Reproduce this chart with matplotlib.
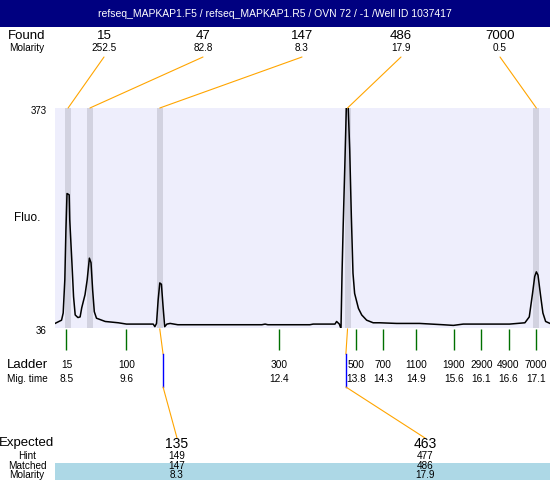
import matplotlib
matplotlib.use("Agg")
import matplotlib.pyplot as plt
from matplotlib import transforms
from matplotlib.patches import Rectangle

plt.rcParams["font.family"] = ["Liberation Sans", "DejaVu Sans"]

TITLE = "refseq_MAPKAP1.F5 / refseq_MAPKAP1.R5 / OVN 72 / -1 /Well ID 1037417"

# electropherogram trace: migration time vs fluorescence
trace_time = [8.29, 8.41, 8.44, 8.47, 8.49, 8.51, 8.55, 8.56, 8.60, 8.63,
              8.66, 8.71, 8.75, 8.78, 8.84, 8.88, 8.92, 8.95, 8.98, 9.01,
              9.05, 9.21, 9.45, 9.60, 10.09, 10.12, 10.15, 10.18, 10.21, 10.24,
              10.27, 10.30, 10.34, 10.40, 10.54, 12.08, 12.14, 12.19, 12.96, 13.02,
              13.42, 13.45, 13.50, 13.53, 13.55, 13.57, 13.60, 13.63, 13.66, 13.69,
              13.72, 13.75, 13.78, 13.85, 13.91, 14.00, 14.12, 14.24, 14.55, 14.97,
              15.40, 15.59, 15.77, 16.26, 16.62, 16.90, 16.98, 17.04, 17.08, 17.11,
              17.14, 17.19, 17.23, 17.28, 17.36]
trace_fluo = [43, 48, 59, 110, 186, 242, 240, 202, 136, 84,
              56, 52, 53, 67, 87, 110, 143, 136, 94, 61,
              51, 46, 44, 42, 42, 38, 43, 79, 105, 103,
              69, 38, 42, 43, 41, 41, 42, 41, 41, 42,
              42, 46, 42, 35, 122, 191, 283, 380, 380, 309,
              207, 120, 89, 66, 56, 48, 44, 44, 43, 43,
              41, 40, 42, 42, 42, 44, 53, 89, 115, 122,
              117, 84, 59, 46, 43]

FLUO_MIN, FLUO_MAX = 36, 373
TIME_MIN, TIME_MAX = 8.29, 17.36

found_size = ["15", "47", "147", "486", "7000"]
found_molarity = ["252.5", "82.8", "8.3", "17.9", "0.5"]
found_time = [8.53, 8.93, 10.21, 13.65, 17.11]

ladder_size = ["15", "100", "300", "500", "700", "1100", "1900", "2900", "4900", "7000"]
ladder_time = [8.5, 9.6, 12.4, 13.8, 14.3, 14.9, 15.6, 16.1, 16.6, 17.1]

expected_size = ["135", "463"]
expected_hint = ["149", "477"]
expected_matched = ["147", "486"]
expected_molarity = ["8.3", "17.9"]
expected_time = [10.27, 13.62]
matched_time = [10.21, 13.65]

NAVY = "#000080"
ORANGE = "#FFA500"
LAVENDER = "#EEEEFC"
BAND = "#D2D2E0"
LIGHTBLUE = "#ADD8E6"

W, H, DPI = 550, 480, 100
fig = plt.figure(figsize=(W / DPI, H / DPI), dpi=DPI)
fig.patch.set_facecolor("white")

# plot area in pixels: x 55..550, y 108..328 (top-down)
ax = fig.add_axes([55 / W, (H - 328) / H, 495 / W, 220 / H])
ax.set_facecolor(LAVENDER)
for s in ax.spines.values():
    s.set_visible(False)
ax.set_xticks([])
ax.set_yticks([])

# top-down pixel coordinates, and data-x / pixel-y blend
px = transforms.Affine2D().scale(1 / DPI, -1 / DPI).translate(0, H / DPI) + fig.dpi_scale_trans
xpx = transforms.blended_transform_factory(ax.transData, px)

for t in found_time:
    ax.axvspan(t - 0.055, t + 0.055, color=BAND, lw=0)
ax.plot(trace_time, trace_fluo, color="black", lw=1.1)
ax.set_xlim(TIME_MIN, TIME_MAX)
ax.set_ylim(FLUO_MIN, FLUO_MAX)

# title bar
fig.add_artist(Rectangle((0, 0), W, 27, transform=px, facecolor=NAVY, edgecolor="none"))
fig.text(275, 14, TITLE, transform=px, color="white", fontsize=7.5,
         ha="center", va="center")

big, small = 9.5, 7.2

# found peaks header
fig.text(27, 36, "Found", transform=px, fontsize=big, ha="center", va="center")
fig.text(27, 48, "Molarity", transform=px, fontsize=small, ha="center", va="center")
for i, (sz, mol, t) in enumerate(zip(found_size, found_molarity, found_time)):
    lx = 104 + i * 99
    fig.text(lx, 36, sz, transform=px, fontsize=big, ha="center", va="center")
    fig.text(lx, 48, mol, transform=px, fontsize=small, ha="center", va="center")
    ax.annotate("", xy=(t, FLUO_MAX), xycoords="data", xytext=(lx, 57), textcoords=px,
                annotation_clip=False,
                arrowprops=dict(arrowstyle="-", color=ORANGE, lw=0.8,
                                shrinkA=0, shrinkB=0))

# y labels
fig.text(47, 111, str(FLUO_MAX), transform=px, fontsize=7, ha="right", va="center")
fig.text(47, 331, str(FLUO_MIN), transform=px, fontsize=7, ha="right", va="center")
fig.text(27, 218, "Fluo.", transform=px, fontsize=8.5, ha="center", va="center")

# ladder
ax.vlines(ladder_time, 329, 350, transform=xpx, colors="#007000", lw=1, clip_on=False)
fig.text(27, 365, "Ladder", transform=px, fontsize=big, ha="center", va="center")
fig.text(27, 379, "Mig. time", transform=px, fontsize=small, ha="center", va="center")
for sz, t in zip(ladder_size, ladder_time):
    ax.text(t, 365, sz, transform=xpx, fontsize=7.3, ha="center", va="center")
    ax.text(t, 379, f"{t:.1f}", transform=xpx, fontsize=7.3, ha="center", va="center")

# expected / matched table
fig.add_artist(Rectangle((55, 463), W - 55, 17, transform=px,
                         facecolor=LIGHTBLUE, edgecolor="none"))
fig.text(27, 443, "Expected", transform=px, fontsize=big, ha="center", va="center")
fig.text(27, 456, "Hint", transform=px, fontsize=small, ha="center", va="center")
fig.text(27, 466, "Matched", transform=px, fontsize=small, ha="center", va="center")
fig.text(27, 474.5, "Molarity", transform=px, fontsize=small, ha="center", va="center")
for lx, e, hnt, m, mol, et, mt in zip([177, 425], expected_size, expected_hint,
                                      expected_matched, expected_molarity,
                                      expected_time, matched_time):
    fig.text(lx, 444, e, transform=px, fontsize=10, ha="center", va="center")
    fig.text(lx, 456, hnt, transform=px, fontsize=small, ha="center", va="center")
    fig.text(lx, 466, m, transform=px, fontsize=small, ha="center", va="center")
    fig.text(lx, 474.5, mol, transform=px, fontsize=small, ha="center", va="center")
    ax.plot([mt, et], [329, 354], transform=xpx, color=ORANGE, lw=0.8, clip_on=False)
    ax.plot([et, et], [354, 387], transform=xpx, color="blue", lw=1, clip_on=False)
    ax.annotate("", xy=(et, 387), xycoords=xpx, xytext=(lx, 438), textcoords=px,
                annotation_clip=False,
                arrowprops=dict(arrowstyle="-", color=ORANGE, lw=0.8,
                                shrinkA=0, shrinkB=0))

ax.set_xlim(TIME_MIN, TIME_MAX)
ax.set_ylim(FLUO_MIN, FLUO_MAX)

fig.savefig("out.png", dpi=DPI)
